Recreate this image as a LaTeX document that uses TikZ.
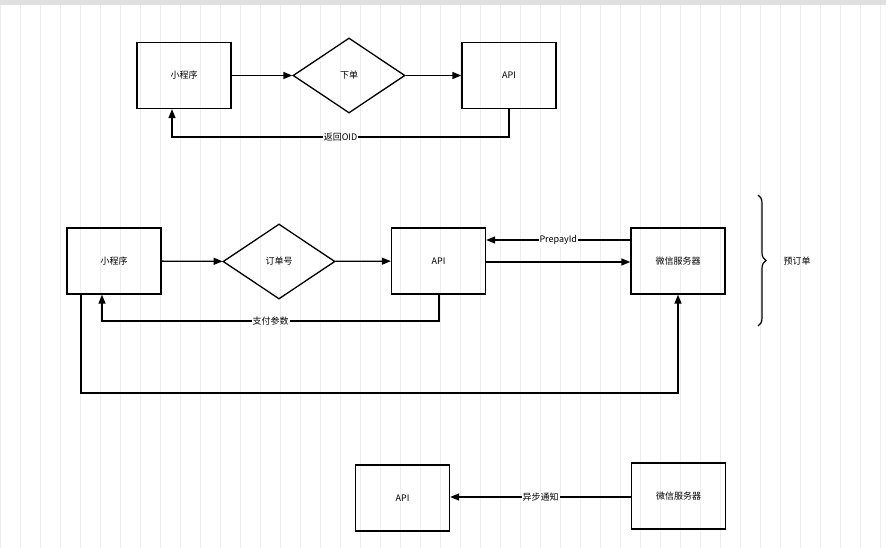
\documentclass[tikz,border=0pt]{standalone}
\usepackage{fontspec}
\setmainfont{Noto Sans CJK SC}
\usetikzlibrary{shapes.geometric,arrows.meta,decorations.pathreplacing}
\begin{document}
\begin{tikzpicture}[x=1pt,y=-1pt,
  box/.style={draw,line width=1.3pt,minimum width=94pt,minimum height=66pt,font=\small},
  dia/.style={draw,diamond,line width=1.3pt,aspect=1.5,minimum width=112pt,minimum height=75pt,inner sep=0pt,font=\small},
  ar/.style={line width=1.3pt,-{Triangle[length=9pt,width=7pt]}},
  lab/.style={fill=white,inner sep=1pt,font=\small}]
\useasboundingbox (0,0) rectangle (886,548);
\fill[white] (0,0) rectangle (886,548);
\draw[black!7,step=20] (0,0) grid (886,548);
\fill[black!12] (0,0) rectangle (886,5);
% top
\node[box] (a1) at (184,75.5) {小程序};
\node[dia] (d1) at (349,75.5) {下单};
\node[box] (p1) at (509,75.5) {API};
\draw[ar] (a1) -- (d1);
\draw[ar] (d1) -- (p1);
\draw[ar] (p1.south) -- (509,137) -- node[lab]{返回OID} (172,137) -- (a1.south -| 172,0);
% middle
\node[box] (a2) at (114,261) {小程序};
\node[dia] (d2) at (279,261.5) {订单号};
\node[box] (p2) at (438.5,261) {API};
\node[box] (w2) at (678,261) {微信服务器};
\draw[ar] (a2) -- (d2);
\draw[ar] (d2) -- (p2);
\draw[ar] (p2.east |- 0,262) -- (w2.west |- 0,262);
\draw[ar] (w2.west |- 0,240) -- node[lab]{PrepayId} (p2.east |- 0,240);
\draw[ar] (p2.south -| 439,0) -- (439,321) -- node[lab]{支付参数} (102,321) -- (a2.south -| 102,0);
\draw[ar] (a2.south -| 81,0) -- (81,393) -- (678,393) -- (w2.south);
\coordinate (b1) at (758,195); \coordinate (b2) at (758,326);
\draw[line width=1.2pt,decorate,decoration={brace,amplitude=8pt}] (b1) -- (b2);
\node[font=\small] (yd) at (797,261) {预订单};
% bottom
\node[box] (p3) at (402.5,498) {API};
\node[box] (w3) at (678.5,496) {微信服务器};
\draw[ar] (w3.west |- 0,497) -- node[lab]{异步通知} (p3.east |- 0,497);
\end{tikzpicture}
\end{document}
